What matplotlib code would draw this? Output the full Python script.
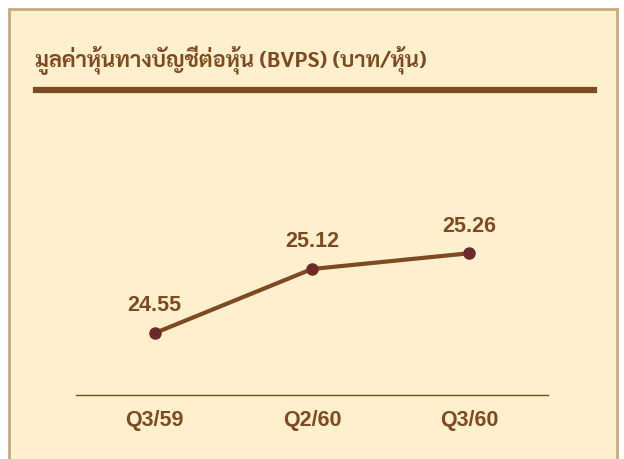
import matplotlib
matplotlib.use("Agg")
import matplotlib.pyplot as plt
from matplotlib.patches import Rectangle

# Data
quarters = ["Q3/59", "Q2/60", "Q3/60"]
bvps = [24.55, 25.12, 25.26]
title = "มูลค่าหุ้นทางบัญชีต่อหุ้น (BVPS) (บาท/หุ้น)"

brown = "#7F4A22"
dot = "#6E2B2B"
cream = "#FFF0CD"
edge = "#C9A97F"

W, H = 624, 459
fig = plt.figure(figsize=(W / 100, H / 100), dpi=100)
fig.patch.set_facecolor("white")

# paneel met rand
fig.patches.append(Rectangle((9 / W, -0.01), 608 / W, (H - 9) / H + 0.01,
                             transform=fig.transFigure, facecolor=cream,
                             edgecolor=edge, linewidth=2, zorder=-1))

fig.text(35 / W, 1 - 60 / H, title, fontsize=15.8, fontweight="bold",
         color=brown, va="center", ha="left",
         family=["Sarabun", "Liberation Sans"])
fig.add_artist(plt.Line2D([36 / W, 594 / W], [1 - 90 / H, 1 - 90 / H],
                          color=brown, linewidth=4.5, transform=fig.transFigure))

ax = fig.add_axes([76 / W, 1 - 395 / H, 472 / W, 270 / H])
ax.set_facecolor("none")
x = range(len(quarters))
ax.plot(x, bvps, color=brown, linewidth=3, zorder=2)
ax.scatter(x, bvps, s=64, color=dot, zorder=3)
for xi, v in zip(x, bvps):
    ax.annotate(f"{v:.2f}", (xi, v), xytext=(0, 12), textcoords="offset points",
                ha="center", va="bottom", fontsize=15.5, fontweight="bold",
                color=brown, family="Liberation Sans")

ax.set_xlim(-0.5, 2.5)
ax.set_ylim(24.0, 26.4)
ax.set_xticks(list(x))
ax.set_xticklabels(quarters, fontsize=15.5, fontweight="bold", color=brown,
                   family="Liberation Sans")
ax.tick_params(axis="x", length=0, pad=11)
ax.set_yticks([])
for s in ["top", "left", "right"]:
    ax.spines[s].set_visible(False)
ax.spines["bottom"].set_color(brown)
ax.spines["bottom"].set_linewidth(1)

fig.savefig("out.png", dpi=100, facecolor=fig.get_facecolor())
